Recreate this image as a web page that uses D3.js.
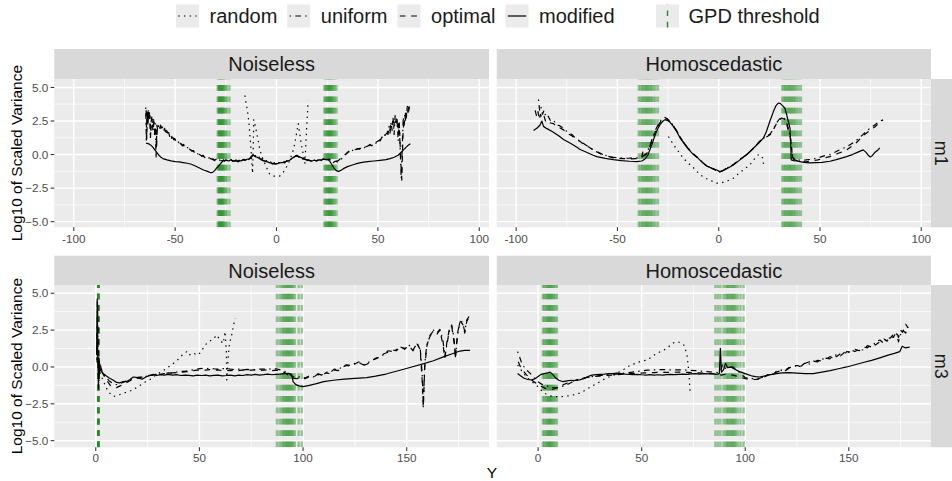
<!DOCTYPE html>
<html>
<head>
<meta charset="utf-8">
<script src="https://cdn.jsdelivr.net/npm/d3@7"></script>
<style>
  body { margin: 0; background: #fff; }
  svg { display: block; }
  text { font-family: "Liberation Sans", Arial, Helvetica, sans-serif; }
</style>
</head>
<body>
<svg id="chart" width="952" height="481"></svg>
<script>
// ---- categories and labels ----
const methods = ["random", "uniform", "optimal", "modified"];
const noiseLevels = ["Noiseless", "Homoscedastic"];
const models = ["m1", "m3"];
const thresholdLabel = "GPD threshold";
const yAxisTitle = "Log10 of Scaled Variance";
const xAxisTitle = "Y";
const yTicks = [-5, -2.5, 0, 2.5, 5];
const yMinor = [-3.75, -1.25, 1.25, 3.75];
const xTicksM1 = [-100, -50, 0, 50, 100];
const xMinorM1 = [-75, -25, 25, 75];
const xTicksM3 = [0, 50, 100, 150];
const xMinorM3 = [25, 75, 125, 175];

// ---- m1, Noiseless ----
const m1NoiselessRandom = [[-15.6,4.4],[-15.2,4.0],[-14.8,3.7],[-14.4,3.3],[-14,2.9],[-13.6,2.3],[-13.2,1.6],[-12.8,0.8],[-12.4,0.0],[-12.1,-0.8],[-11.8,-1.4],[-11.5,0.6],[-11.2,2.6],[-10.7,2.3],[-9.9,1.7],[-9.1,1.1],[-8.2,0.35],[-7,-0.2],[-5.8,-0.64],[-4.5,-1.1],[-3.3,-1.5],[-1.5,-1.6],[0,-1.62],[1.6,-1.6],[3,-1.4],[4.1,-1.14],[5.4,-0.8],[6.6,-0.4],[8.2,0.3],[9.1,0.9],[9.9,1.6],[10.7,2.3],[11.5,1.5],[12.3,0.7],[13.2,0.0],[14,-0.64],[14.4,0.6],[14.8,1.8],[15.2,2.9],[15.6,4.0]];
const m1NoiselessUniform = [[-64.5,3.5],[-64.2,0.9],[-63.9,3.3],[-63.6,2.4],[-63.3,3.4],[-63.0,2.8],[-62.6,3.1],[-62.2,1.2],[-61.8,2.5],[-61.4,2.9],[-61.0,1.8],[-60.6,2.6],[-60.2,1.5],[-59.8,2.3],[-59.4,-0.3],[-59.0,2.2],[-58.6,1.8],[-58.2,2.15],[-57.7,1.9],[-57.2,2.2],[-56.7,1.85],[-56.2,2.05],[-55.7,1.75],[-55.2,1.95],[-54.7,1.6],[-54.2,1.8],[-53.7,1.5],[-53.2,1.65],[-52.7,1.35],[-52.2,1.5],[-51.7,1.2],[-51.2,1.35],[-50.7,1.1],[-50.2,1.2],[-49.5,0.95],[-48.8,1.05],[-48.0,0.8],[-47.3,0.9],[-46.5,0.65],[-45.8,0.75],[-45.0,0.55],[-44.2,0.6],[-43.4,0.4],[-42.6,0.45],[-41.8,0.25],[-41.0,0.3],[-40.2,0.1],[-39.4,0.18],[-38.6,0.0],[-37.8,0.05],[-37.0,-0.12],[-36.2,-0.05],[-35.4,-0.22],[-34.6,-0.15],[-33.8,-0.3],[-33.0,-0.22],[-32.2,-0.38],[-31.4,-0.3],[-30.6,-0.45],[-29.8,-0.35],[-29.0,-0.5],[-28.2,-0.38],[-27.4,-0.52],[-26.6,-0.36],[-25.8,-0.48],[-25,-0.4],[-24,-0.5],[-23,-0.35],[-22,-0.45],[-21,-0.52],[-20,-0.4],[-19,-0.55],[-18,-0.45],[-17,-0.5],[-16,-0.35],[-15,-0.45],[-14,-0.4],[-13,-0.3],[-12,-0.1],[-11,0.05],[-10,-0.2],[-9,-0.1],[-8,-0.35],[-7,-0.3],[-6,-0.5],[-5,-0.45],[-4,-0.6],[-3,-0.55],[-2,-0.7],[-1,-0.6],[0,-0.72],[1,-0.6],[2,-0.66],[3,-0.55],[4,-0.62],[5,-0.45],[6,-0.5],[7,-0.35],[8,-0.25],[9,-0.15],[10,-0.05],[11,-0.2],[12,-0.1],[13,-0.35],[14,-0.3],[15,-0.45],[16,-0.4],[17,-0.5],[18,-0.45],[19,-0.4],[20,-0.5],[21,-0.35],[22,-0.45],[23,-0.3],[24,-0.4],[25,-0.3],[26,-0.35],[27,-0.45],[28,-0.6],[29,-0.5],[30,-0.55],[31,-0.4],[32,-0.35],[33,-0.1],[34,0.0],[35,0.15],[36,0.3],[37,0.2],[38,0.4],[39,0.3],[40,0.45],[41,0.4],[42,0.55],[43,0.45],[44,0.6],[45,0.55],[46,0.75],[47,0.65],[48,0.9],[49,0.85],[50,1.05],[51,1.0],[52,1.3],[53,1.2],[54,1.7],[55,1.5],[55.5,2.1],[56,1.6],[56.5,2.4],[57,1.8],[57.5,2.7],[58,1.5],[58.5,2.9],[59,2.2],[59.5,2.6],[60,1.0],[60.5,2.5],[61,0.3],[61.5,-1.8],[62,0.5],[62.5,2.8],[63,2.2],[63.5,3.2],[64,2.6],[64.5,3.6],[65,3.0],[65.5,3.6]];
const m1NoiselessOptimal = [[-64.3,3.3],[-64.0,1.2],[-63.7,3.0],[-63.4,2.1],[-63.1,3.2],[-62.8,2.5],[-62.4,2.9],[-62.0,1.6],[-61.6,2.7],[-61.2,2.4],[-60.8,2.0],[-60.4,2.4],[-60.0,1.7],[-59.6,2.1],[-59.2,0.4],[-58.8,2.0],[-58.4,1.9],[-57.9,2.05],[-57.4,1.95],[-56.9,2.1],[-56.4,1.9],[-55.9,1.95],[-55.4,1.8],[-54.9,1.85],[-54.4,1.65],[-53.9,1.7],[-53.4,1.5],[-52.9,1.55],[-52.4,1.4],[-51.9,1.4],[-51.4,1.25],[-50.9,1.25],[-50.4,1.12],[-49.8,1.05],[-49.1,1.0],[-48.4,0.92],[-47.6,0.85],[-46.9,0.75],[-46.1,0.7],[-45.4,0.6],[-44.6,0.55],[-43.8,0.45],[-43.0,0.42],[-42.2,0.32],[-41.4,0.28],[-40.6,0.18],[-39.8,0.14],[-39.0,0.06],[-38.2,0.02],[-37.4,-0.06],[-36.6,-0.1],[-35.8,-0.16],[-35.0,-0.2],[-34.2,-0.24],[-33.4,-0.28],[-32.6,-0.3],[-31.8,-0.34],[-31.0,-0.4],[-30.2,-0.4],[-29.4,-0.44],[-28.6,-0.45],[-27.8,-0.44],[-27.0,-0.46],[-26.2,-0.42],[-25.5,-0.45],[-24.5,-0.42],[-23.5,-0.48],[-22.5,-0.38],[-21.5,-0.5],[-20.5,-0.45],[-19.5,-0.5],[-18.5,-0.42],[-17.5,-0.48],[-16.5,-0.38],[-15.5,-0.42],[-14.5,-0.35],[-13.5,-0.32],[-12.5,-0.15],[-11.5,-0.05],[-10.5,-0.15],[-9.5,-0.2],[-8.5,-0.3],[-7.5,-0.38],[-6.5,-0.45],[-5.5,-0.5],[-4.5,-0.55],[-3.5,-0.6],[-2.5,-0.65],[-1.5,-0.68],[-0.5,-0.7],[0.5,-0.68],[1.5,-0.62],[2.5,-0.6],[3.5,-0.58],[4.5,-0.52],[5.5,-0.48],[6.5,-0.42],[7.5,-0.3],[8.5,-0.2],[9.5,-0.1],[10.5,-0.12],[11.5,-0.18],[12.5,-0.25],[13.5,-0.32],[14.5,-0.38],[15.5,-0.42],[16.5,-0.45],[17.5,-0.48],[18.5,-0.42],[19.5,-0.46],[20.5,-0.42],[21.5,-0.4],[22.5,-0.38],[23.5,-0.35],[24.5,-0.38],[25.5,-0.35],[26.5,-0.4],[27.5,-0.5],[28.5,-0.55],[29.5,-0.48],[30.5,-0.45],[31.5,-0.3],[32.5,-0.2],[33.5,-0.05],[34.5,0.08],[35.5,0.2],[36.5,0.25],[37.5,0.3],[38.5,0.35],[39.5,0.4],[40.5,0.42],[41.5,0.5],[42.5,0.5],[43.5,0.58],[44.5,0.6],[45.5,0.68],[46.5,0.72],[47.5,0.8],[48.5,0.88],[49.5,0.95],[50.5,1.05],[51.5,1.15],[52.5,1.25],[53.5,1.45],[54.5,1.6],[55.2,1.9],[55.8,1.7],[56.3,2.2],[56.8,2.0],[57.3,2.5],[57.8,2.0],[58.3,2.7],[58.8,2.4],[59.3,2.8],[59.8,1.8],[60.3,2.3],[60.8,1.5],[61.3,-0.5],[61.8,-1.9],[62.3,1.2],[62.8,2.6],[63.3,2.9],[63.8,2.4],[64.3,3.4],[64.8,3.2],[65.3,3.7],[65.7,3.4]];
const m1NoiselessModified = [[-64.3,0.85],[-63,0.8],[-62,0.7],[-61,0.55],[-60,0.35],[-59,0.15],[-58,-0.05],[-57,-0.2],[-56,-0.3],[-54,-0.4],[-52,-0.47],[-50,-0.52],[-48,-0.55],[-46,-0.6],[-44,-0.65],[-42,-0.72],[-40,-0.85],[-38,-1.0],[-36,-1.15],[-34,-1.25],[-32.5,-1.35],[-31.5,-1.33],[-30.5,-1.2],[-29.5,-1.0],[-28.5,-0.85],[-27.5,-0.65],[-26.5,-0.5],[-25.5,-0.45],[-24.5,-0.42],[-23.5,-0.48],[-22.5,-0.38],[-21.5,-0.5],[-20.5,-0.45],[-19.5,-0.5],[-18.5,-0.42],[-17.5,-0.48],[-16.5,-0.38],[-15.5,-0.42],[-14.5,-0.35],[-13.5,-0.32],[-12.5,-0.15],[-11.5,-0.05],[-10.5,-0.15],[-9.5,-0.2],[-8.5,-0.3],[-7.5,-0.38],[-6.5,-0.45],[-5.5,-0.5],[-4.5,-0.55],[-3.5,-0.6],[-2.5,-0.65],[-1.5,-0.68],[-0.5,-0.7],[0.5,-0.68],[1.5,-0.62],[2.5,-0.6],[3.5,-0.58],[4.5,-0.52],[5.5,-0.48],[6.5,-0.42],[7.5,-0.3],[8.5,-0.2],[9.5,-0.1],[10.5,-0.12],[11.5,-0.18],[12.5,-0.25],[13.5,-0.32],[14.5,-0.38],[15.5,-0.42],[16.5,-0.45],[17.5,-0.48],[18.5,-0.42],[19.5,-0.46],[20.5,-0.42],[21.5,-0.4],[22.5,-0.38],[23.5,-0.35],[24.5,-0.38],[25.5,-0.4],[26.5,-0.55],[27.5,-0.8],[28.5,-1.05],[29.5,-1.2],[30.5,-1.25],[31.5,-1.2],[33,-1.05],[35,-0.9],[37,-0.8],[39,-0.7],[41,-0.62],[43,-0.57],[45,-0.52],[48,-0.48],[51,-0.43],[54,-0.38],[56,-0.3],[58,-0.2],[60,-0.05],[61,0.1],[62,0.25],[63,0.4],[64,0.55],[65,0.7],[66,0.8]];
const m1NoiselessThresholds = [-29.0,-28.6,-28.3,-28.0,-27.7,-27.4,-27.1,-26.8,-26.5,-26.1,-25.7,-25.1,-24.4,-23.2,23.6,24.1,24.6,25.0,25.4,25.8,26.1,26.4,26.8,27.2,27.6,28.1,28.7,29.6];

// ---- m1, Homoscedastic ----
const m1HomoscedasticRandom = [[-24.8,1.34],[-23,0.9],[-21,0.45],[-19,0.05],[-17.5,-0.27],[-15,-0.65],[-12,-1.05],[-9.2,-1.51],[-6,-1.8],[-3,-2.0],[-1,-2.13],[1.5,-2.1],[4.5,-1.95],[7.2,-1.76],[10,-1.4],[12.5,-1.1],[15.4,-0.77],[17.5,-0.35],[19.5,-0.02],[20.8,-0.05],[21.8,-0.3],[22.3,-1.0]];
const m1HomoscedasticUniform = [[-89,4.1],[-88.4,3.3],[-87.8,3.6],[-87,3.0],[-86.2,3.3],[-85.3,2.8],[-84.3,2.9],[-83,2.5],[-81.5,2.55],[-80,2.2],[-78.5,2.15],[-76.6,1.95],[-74.5,1.65],[-72.5,1.5],[-70.5,1.2],[-68.4,1.0],[-66,0.75],[-64,0.55],[-62,0.35],[-60.2,0.2],[-58,0.05],[-56,-0.05],[-54,-0.15],[-52,-0.2],[-50,-0.25],[-47,-0.28],[-44,-0.27],[-41,-0.25],[-39,-0.25],[-37.5,-0.15],[-36,0.05],[-35,0.3],[-34,0.7],[-33,1.1],[-32,1.5],[-31,1.9],[-30,2.2],[-28.9,2.5],[-27.8,2.7],[-26.8,2.78],[-25.8,2.7],[-24,2.5],[-22.4,2.15],[-20.5,1.72],[-19.1,1.32],[-17,0.85],[-15,0.45],[-12.5,0.05],[-10,-0.28],[-8,-0.58],[-5.9,-0.85],[-3,-1.05],[-1,-1.2],[0.6,-1.3],[2,-1.2],[4,-1.0],[7.2,-0.75],[10,-0.4],[13.8,0.0],[16,0.3],[18,0.6],[20,0.95],[22,1.2],[24,1.4],[25.5,1.55],[27,1.9],[28.5,2.35],[30,2.65],[31.5,2.78],[32.5,2.7],[33.5,2.4],[34.5,1.9],[35.3,1.3],[36,0.5],[36.5,-0.2],[37.5,-0.35],[39,-0.4],[41,-0.42],[43,-0.4],[46,-0.35],[49,-0.25],[52,-0.1],[54.9,0.0],[57,0.15],[59,0.3],[61,0.45],[63.1,0.55],[65,0.75],[67,0.95],[69,1.2],[71.3,1.5],[73,1.75],[75,2.0],[77,2.2],[79.5,2.5],[81.7,2.6]];
const m1HomoscedasticOptimal = [[-90.6,3.3],[-89.8,2.8],[-89.2,3.2],[-88.6,2.6],[-88,3.0],[-87.2,2.7],[-86.3,2.9],[-85.5,2.5],[-84.5,2.6],[-83,2.35],[-81.5,2.3],[-80,2.05],[-78.5,2.0],[-76.6,1.84],[-74.5,1.55],[-72.5,1.4],[-70.5,1.15],[-68.4,0.97],[-66,0.7],[-64,0.55],[-62,0.35],[-60.2,0.22],[-58,0.05],[-56,-0.05],[-54,-0.15],[-52,-0.25],[-50,-0.28],[-47,-0.3],[-44,-0.32],[-41,-0.3],[-39,-0.28],[-38,-0.2],[-37.3,0.3],[-36.8,-0.1],[-36,0.0],[-35,0.2],[-34,0.6],[-33,1.0],[-32.2,1.35],[-31,1.8],[-30,2.1],[-28.9,2.4],[-27.8,2.6],[-26.5,2.72],[-25.5,2.65],[-24,2.45],[-22.4,2.15],[-20.5,1.7],[-19.1,1.3],[-17,0.85],[-15,0.45],[-12.5,0.05],[-10,-0.28],[-8,-0.58],[-5.9,-0.85],[-3,-1.05],[-1,-1.2],[0.6,-1.3],[2,-1.2],[4,-1.0],[7.2,-0.75],[10,-0.4],[13.8,0.0],[16,0.3],[18,0.6],[20,0.95],[22,1.2],[24,1.35],[25.5,1.5],[27,1.85],[28.5,2.3],[30,2.6],[31.1,2.72],[32.3,2.65],[33.5,2.3],[34.5,1.7],[35.5,1.2],[36,0.4],[36.6,-0.3],[37.5,-0.4],[39,-0.45],[41,-0.5],[43,-0.55],[46,-0.45],[49,-0.4],[52,-0.25],[54.9,-0.15],[57,-0.05],[59,0.1],[61,0.2],[63.1,0.35],[65,0.55],[67,0.75],[69,1.05],[71.3,1.4],[73,1.6],[75,1.85],[77,2.05],[79.5,2.4],[81.1,2.6]];
const m1HomoscedasticModified = [[-91.4,1.8],[-89.5,2.0],[-88.2,2.2],[-87.3,2.5],[-86.5,2.1],[-85,1.95],[-82,1.7],[-79,1.4],[-76.6,1.12],[-73,0.82],[-70,0.55],[-68.4,0.38],[-65,0.15],[-62,-0.05],[-60.2,-0.15],[-56,-0.28],[-52,-0.38],[-48,-0.45],[-44,-0.5],[-40.4,-0.52],[-38,-0.48],[-36.5,-0.35],[-35,-0.05],[-34,0.35],[-33,0.75],[-32.2,1.1],[-31,1.6],[-30,1.95],[-28.9,2.25],[-27.5,2.5],[-26.5,2.6],[-25.5,2.55],[-24,2.4],[-22.4,2.1],[-20.5,1.65],[-19.1,1.25],[-17,0.8],[-15,0.4],[-12.5,0.0],[-10,-0.3],[-8,-0.6],[-5.9,-0.85],[-3,-1.05],[-1,-1.15],[0.6,-1.27],[2,-1.2],[4,-1.05],[7.2,-0.78],[10,-0.45],[13.8,-0.02],[16,0.3],[18,0.6],[20,0.9],[22,1.22],[23.5,1.7],[25.3,2.5],[27,3.2],[28.3,3.65],[29.4,3.84],[30.5,3.8],[31.5,3.65],[32.7,3.45],[33.5,3.0],[34.3,2.5],[35.2,1.97],[35.6,0.5],[35.8,-0.4],[37,-0.45],[38.5,-0.48],[40.1,-0.52],[42,-0.58],[45,-0.62],[48,-0.6],[51,-0.58],[54.9,-0.5],[58,-0.38],[61,-0.25],[63.1,-0.15],[66,0.0],[69,0.2],[71.3,0.35],[72.5,0.2],[73.8,-0.05],[74.8,-0.18],[75.8,-0.08],[77,0.15],[78.3,0.3],[79.5,0.5]];
const m1HomoscedasticThresholds = [-39.5,-38.6,-37.9,-37.2,-36.6,-36.0,-35.4,-34.8,-34.2,-33.6,-32.9,-32.1,-31.2,-30.0,31.4,32.1,32.8,33.4,34.0,34.6,35.2,35.8,36.4,37.0,37.7,38.5,39.5,40.6];

// ---- m3, Noiseless ----
const m3NoiselessRandom = [[1.2,-0.8],[2,-0.4],[3.5,-0.9],[5,-1.4],[6.5,-1.75],[8.5,-2.0],[10,-1.95],[12,-1.85],[14,-1.75],[16,-1.65],[18.1,-1.56],[20,-1.35],[22,-1.2],[24,-1.0],[26.2,-0.85],[28,-0.65],[30,-0.45],[32,-0.3],[34.2,-0.1],[36,0.1],[38,0.3],[40,0.55],[42,0.85],[43.9,1.04],[45,0.8],[47,0.95],[49,0.8],[50.3,0.95],[52,1.3],[53.5,1.6],[55,1.75],[57,1.95],[58.4,2.17],[60,1.8],[61.5,1.6],[62.4,2.4],[63,1.0],[63.2,-0.88],[63.8,0.5],[64.5,1.6],[65.4,2.05],[66.3,2.7],[67.2,3.3]];
const m3NoiselessUniform = [[0.5,0.5],[0.8,4.5],[1.1,1.0],[1.5,-1.0],[2.0,0.3],[2.6,-0.1],[3.5,-0.4],[5,-0.7],[6.5,-0.95],[8,-1.1],[9.5,-1.2],[11,-1.18],[13,-1.05],[15,-0.95],[17,-0.85],[19,-0.75],[21,-0.68],[23,-0.7],[25,-0.6],[27,-0.55],[29,-0.5],[31,-0.55],[33,-0.45],[35,-0.4],[37,-0.42],[39,-0.35],[41,-0.3],[43,-0.3],[45,-0.25],[47,-0.2],[49,-0.15],[51,-0.1],[53,-0.12],[55,-0.08],[57,-0.12],[59,-0.15],[61,-0.12],[63,-0.1],[65,-0.15],[67,-0.18],[69,-0.15],[71,-0.2],[73,-0.17],[75,-0.2],[77,-0.18],[79,-0.15],[81,-0.15],[83,-0.13],[85,-0.15],[87,-0.12],[89,-0.2],[91,-0.3],[93,-0.45],[95,-0.65],[97,-0.72],[99,-0.65],[101,-0.75],[103,-0.6],[105,-0.68],[107,-0.45],[109,-0.55],[111,-0.35],[113,-0.4],[115,-0.15],[117,-0.2],[119,0.05],[121,0.15],[123,0.1],[125,0.25],[127,0.3],[129,0.15],[131,0.25],[133,0.45],[135,0.55],[137,0.7],[139,0.85],[141,1.1],[143,1.05],[145,1.2],[147,1.35],[149,1.25],[151,1.5],[153,1.15],[155,1.6],[156.5,1.3],[157.5,-0.5],[158,-2.7],[158.7,0.2],[159.7,1.5],[161,2.0],[162.9,2.5],[164.5,2.3],[166,2.55],[167.5,1.8],[168.4,0.7],[169.5,1.6],[170.5,2.4],[171.7,2.85],[172.8,2.0],[173.5,0.7],[174.5,2.1],[175.8,3.19],[177,3.0],[178,2.4],[179,3.2],[180.6,3.53]];
const m3NoiselessOptimal = [[0.6,0.3],[0.9,4.2],[1.2,0.8],[1.6,-0.8],[2.2,0.0],[3,-0.35],[4,-0.6],[5.5,-0.95],[7,-1.25],[8.5,-1.38],[10,-1.4],[11.5,-1.3],[13,-1.2],[15,-1.05],[17,-0.9],[19,-0.8],[21,-0.72],[23,-0.68],[25,-0.6],[27,-0.55],[29,-0.52],[31,-0.5],[33,-0.45],[35,-0.42],[37,-0.4],[39,-0.38],[41,-0.35],[43,-0.33],[45,-0.3],[47,-0.25],[49,-0.22],[51,-0.2],[53,-0.22],[55,-0.18],[57,-0.22],[59,-0.2],[61,-0.25],[63,-0.22],[65,-0.25],[67,-0.22],[69,-0.25],[71,-0.2],[73,-0.25],[75,-0.22],[77,-0.2],[79,-0.25],[81,-0.22],[83,-0.2],[85,-0.25],[87,-0.22],[89,-0.28],[91,-0.38],[93,-0.55],[95,-0.75],[97,-0.8],[99,-0.7],[101,-0.8],[103,-0.65],[105,-0.7],[107,-0.5],[109,-0.6],[111,-0.4],[113,-0.45],[115,-0.2],[117,-0.25],[119,0.0],[121,0.1],[123,0.05],[125,0.2],[127,0.35],[129,0.1],[131,0.2],[133,0.4],[135,0.6],[137,0.65],[139,0.9],[141,1.0],[143,1.15],[145,1.1],[147,1.4],[149,1.2],[151,1.45],[153,1.1],[155,1.55],[156.5,1.2],[157.5,-1.0],[158,-2.75],[158.7,0.0],[159.7,1.4],[161,2.1],[162.9,2.45],[164.5,2.2],[166,2.5],[167.5,1.5],[168.4,0.6],[169.5,1.8],[170.5,2.5],[171.7,2.8],[172.8,1.7],[173.5,0.6],[174.5,2.3],[175.8,3.1],[177,2.9],[178,2.3],[179,3.1],[180.6,3.5]];
const m3NoiselessModified = [[0.4,0.8],[0.7,4.6],[1.0,0.5],[1.3,-1.5],[1.6,0.6],[2.0,-0.1],[2.5,-0.25],[3.7,-0.45],[5,-0.6],[6.5,-0.75],[8.5,-0.9],[10,-1.05],[11.5,-1.08],[13,-1.0],[15,-0.98],[16.5,-0.85],[18.1,-0.68],[19.5,-0.7],[21,-0.78],[22.5,-0.82],[24,-0.7],[25.5,-0.6],[27.8,-0.5],[29.5,-0.58],[31,-0.52],[33,-0.55],[35,-0.5],[37,-0.55],[39,-0.52],[41,-0.58],[43,-0.55],[45,-0.57],[47,-0.6],[49,-0.55],[51,-0.58],[53,-0.55],[55,-0.6],[57,-0.57],[59,-0.55],[61,-0.6],[63,-0.58],[65,-0.55],[67,-0.6],[69,-0.55],[71,-0.58],[73,-0.52],[75,-0.55],[77,-0.5],[79,-0.55],[81,-0.52],[83,-0.48],[85,-0.53],[87,-0.5],[89,-0.48],[91,-0.45],[93,-0.43],[94.5,-0.5],[95.2,-1.0],[96.5,-1.2],[98,-1.28],[100.1,-1.33],[103,-1.25],[106,-1.15],[110,-1.0],[114.6,-0.9],[120,-0.82],[125,-0.78],[130.7,-0.72],[135,-0.62],[140,-0.48],[146.8,-0.22],[152,-0.02],[157,0.18],[162.9,0.42],[168,0.7],[172,0.9],[175.7,1.08],[178,1.12],[180.5,1.12]];
const m3NoiselessThresholds = [1.25,1.25,1.25,1.25,1.25,1.25,1.25,1.25,87.4,88.6,89.6,90.3,90.9,91.5,92.0,92.5,93.0,93.5,94.0,94.6,95.2,96.0,97.9,99.4];

// ---- m3, Homoscedastic ----
const m3HomoscedasticRandom = [[-9.9,0.13],[-8,-0.25],[-6,-0.6],[-4,-0.9],[-2,-1.1],[0,-1.35],[2,-1.65],[4.5,-1.9],[7,-2.0],[9.5,-2.02],[12.5,-2.0],[15,-1.95],[17.5,-1.88],[20.6,-1.75],[23,-1.55],[26,-1.3],[28.6,-1.1],[31,-0.9],[33.5,-0.72],[36.7,-0.55],[39,-0.35],[41.5,-0.15],[44.7,0.13],[47,0.25],[50,0.4],[52.7,0.47],[55,0.7],[57,0.9],[58.5,1.0],[60.7,1.15],[62.5,1.3],[64,1.5],[65.5,1.65],[67.1,1.72],[68.5,1.65],[70.3,1.5],[71.2,1.15],[72,0.7],[72.8,-0.4],[73.5,-1.9]];
const m3HomoscedasticUniform = [[-9.9,1.04],[-9,0.7],[-8,0.3],[-7,0.05],[-6,-0.15],[-4.5,-0.35],[-3,-0.55],[-1.5,-0.8],[0,-1.0],[1.5,-1.15],[3,-1.25],[4.5,-1.3],[6,-1.35],[7.5,-1.4],[9,-1.42],[10.5,-1.38],[12,-1.3],[14,-1.2],[16,-1.05],[18,-0.95],[20.6,-0.8],[23,-0.72],[26,-0.65],[29,-0.6],[32,-0.55],[36.7,-0.5],[40,-0.45],[44,-0.38],[48,-0.3],[52.7,-0.22],[56,-0.2],[60,-0.18],[64,-0.2],[68.8,-0.2],[72,-0.22],[76,-0.25],[80,-0.3],[84.8,-0.35],[87,-0.38],[88,-0.3],[89,0.15],[90,-0.1],[92,-0.05],[94,0.0],[96,-0.2],[98,-0.5],[100,-0.72],[102,-0.78],[104.5,-0.8],[106.5,-0.78],[108.5,-0.7],[110.5,-0.55],[112,-0.45],[113.5,-0.5],[115,-0.3],[117.3,-0.22],[119,-0.25],[121,-0.05],[123,0.0],[125.3,0.13],[127,0.05],[129,0.3],[131,0.2],[132.9,0.4],[135,0.35],[137,0.55],[139,0.5],[140.9,0.7],[142.5,0.6],[144,0.85],[146,0.75],[148,1.0],[149,0.9],[151,1.15],[153,1.05],[155,1.2],[157,1.15],[159,1.45],[161,1.35],[163,1.7],[165,1.83],[167,1.6],[168.5,2.0],[170,1.95],[171.5,2.2],[173,2.3],[174,1.7],[175,2.2],[176,2.5],[177.5,2.3],[178.6,2.73]];
const m3HomoscedasticOptimal = [[-9.6,0.35],[-8.5,0.0],[-7,-0.3],[-5.5,-0.55],[-4,-0.75],[-2.5,-0.95],[-1,-1.1],[0.5,-1.25],[2,-1.35],[3.5,-1.45],[5,-1.5],[6.5,-1.52],[8,-1.48],[9.5,-1.4],[11,-1.3],[13,-1.15],[15,-1.05],[17,-0.95],[19,-0.85],[21,-0.78],[24,-0.7],[27,-0.65],[30,-0.6],[33,-0.57],[36,-0.55],[40,-0.5],[44,-0.45],[48,-0.42],[52,-0.4],[56,-0.38],[60,-0.36],[64,-0.37],[68,-0.35],[72,-0.37],[76,-0.4],[80,-0.42],[84,-0.45],[87,-0.5],[88.5,-0.55],[90,-0.5],[92,-0.5],[94,-0.55],[96,-0.62],[98,-0.7],[100,-0.8],[102,-0.82],[104.5,-0.85],[106.5,-0.82],[108.5,-0.72],[110.5,-0.6],[112,-0.5],[113.5,-0.55],[115,-0.35],[117.3,-0.25],[119,-0.3],[121,-0.1],[123,0.05],[125.3,0.1],[127,0.0],[129,0.25],[131,0.35],[132.9,0.3],[135,0.45],[137,0.4],[139,0.6],[140.9,0.55],[142.5,0.75],[144,0.7],[146,0.9],[148,0.85],[149,1.05],[151,1.0],[153,1.2],[155,1.1],[157,1.35],[159,1.3],[161,1.55],[163,1.5],[165,1.7],[167,1.9],[168.5,1.75],[170,2.1],[171.5,2.0],[173,2.4],[174,2.0],[175,2.5],[176,2.35],[177.5,2.9],[178.6,2.65]];
const m3HomoscedasticModified = [[-9.9,-0.45],[-8.5,-0.6],[-7,-0.75],[-5,-0.85],[-3,-0.88],[-1.5,-0.8],[0,-0.65],[1.5,-0.5],[3,-0.45],[4.5,-0.4],[5.8,-0.35],[7,-0.5],[8.5,-0.75],[10,-0.9],[12,-1.0],[14,-0.95],[16,-0.9],[18,-0.92],[20,-0.88],[22,-0.8],[24,-0.65],[26,-0.55],[28,-0.52],[30,-0.5],[32,-0.48],[34,-0.45],[36,-0.45],[38,-0.42],[40,-0.45],[42,-0.48],[44,-0.5],[46,-0.52],[48,-0.5],[50,-0.53],[52,-0.55],[54,-0.52],[56,-0.55],[58,-0.53],[60,-0.55],[62,-0.52],[64,-0.5],[66,-0.52],[68,-0.5],[70,-0.48],[72,-0.5],[74,-0.47],[76,-0.45],[78,-0.48],[80,-0.45],[82,-0.47],[84,-0.45],[86,-0.5],[87.5,-0.45],[88,1.27],[88.5,-0.35],[89.5,-0.2],[90.5,0.25],[91.5,-0.05],[93,0.0],[95,-0.15],[97,-0.3],[99,-0.4],[101,-0.5],[103,-0.6],[105,-0.65],[107,-0.68],[109,-0.62],[111,-0.55],[113,-0.5],[115,-0.45],[118,-0.4],[121,-0.38],[125,-0.42],[129,-0.45],[132.9,-0.45],[137,-0.35],[141,-0.25],[145,-0.12],[149,0.0],[153,0.15],[157,0.3],[161,0.45],[165,0.62],[169,0.8],[172,0.92],[174.6,1.04],[175.8,1.4],[177.2,1.3],[179.4,1.35]];
const m3HomoscedasticThresholds = [2.3,3.0,3.6,4.2,4.7,5.2,5.6,6.0,6.5,7.0,7.6,8.3,9.1,85.6,86.8,88.0,89.5,90.5,91.2,91.8,92.4,93.0,93.6,94.2,94.8,95.4,96.4,97.7,99.2];

// ---- panel table built from the arrays above ----
const panelData = [
  { model: "m1", noise: "Noiseless", row: 0, col: 0, thresholds: m1NoiselessThresholds,
    series: { random: m1NoiselessRandom, uniform: m1NoiselessUniform, optimal: m1NoiselessOptimal, modified: m1NoiselessModified } },
  { model: "m1", noise: "Homoscedastic", row: 0, col: 1, thresholds: m1HomoscedasticThresholds,
    series: { random: m1HomoscedasticRandom, uniform: m1HomoscedasticUniform, optimal: m1HomoscedasticOptimal, modified: m1HomoscedasticModified } },
  { model: "m3", noise: "Noiseless", row: 1, col: 0, thresholds: m3NoiselessThresholds,
    series: { random: m3NoiselessRandom, uniform: m3NoiselessUniform, optimal: m3NoiselessOptimal, modified: m3NoiselessModified } },
  { model: "m3", noise: "Homoscedastic", row: 1, col: 1, thresholds: m3HomoscedasticThresholds,
    series: { random: m3HomoscedasticRandom, uniform: m3HomoscedasticUniform, optimal: m3HomoscedasticOptimal, modified: m3HomoscedasticModified } }
];

// ---- layout and styles ----
const rowLayout = [
  { top: 79, bottom: 227.3, stripTop: 49, xDomain: [-109.6, 104.8], yDomain: [-5.42, 5.63], xTicks: xTicksM1, xMinor: xMinorM1, tickLabelY: 243 },
  { top: 285, bottom: 447.3, stripTop: 255.7, xDomain: [-20, 189.7], yDomain: [-5.45, 5.56], xTicks: xTicksM3, xMinor: xMinorM3, tickLabelY: 462 }
];
const colLayout = [{ left: 54.3, right: 489 }, { left: 496.7, right: 931 }];
const stripRightWidth = 30;
const dashFor = { random: "1.42,4.27", uniform: "1.42,4.27,5.69,4.27", optimal: "5.69,5.69", modified: null };
const lineWidth = 1.2;
const gpdColor = "#228B22";

const svg = d3.select("#chart");
const defs = svg.append("defs");

// ---- legend ----
const legend = svg.append("g");
const keySize = 23, keyTop = 4.5, legendMid = keyTop + keySize / 2;
let keyX = 176;
methods.forEach(m => {
  legend.append("rect").attr("x", keyX).attr("y", keyTop).attr("width", keySize).attr("height", keySize).attr("fill", "#EBEBEB");
  legend.append("line")
    .attr("x1", keyX + 2.3).attr("x2", keyX + keySize - 2.3)
    .attr("y1", legendMid).attr("y2", legendMid)
    .attr("stroke", "#000").attr("stroke-width", lineWidth)
    .attr("stroke-dasharray", dashFor[m]);
  const t = legend.append("text").attr("x", keyX + keySize + 10.5).attr("y", legendMid + 7)
    .attr("font-size", 20).attr("fill", "#1A1A1A").text(m);
  keyX = keyX + keySize + 10.5 + t.node().getComputedTextLength() + 10;
});
const gpdKeyX = 656;
legend.append("rect").attr("x", gpdKeyX).attr("y", keyTop).attr("width", keySize).attr("height", keySize).attr("fill", "#EBEBEB");
legend.append("line")
  .attr("x1", gpdKeyX + keySize / 2).attr("x2", gpdKeyX + keySize / 2)
  .attr("y1", keyTop + keySize).attr("y2", keyTop)
  .attr("stroke", gpdColor).attr("stroke-width", 1.42).attr("stroke-dasharray", "5.69,5.69");
legend.append("text").attr("x", gpdKeyX + keySize + 9.5).attr("y", legendMid + 7)
  .attr("font-size", 20).attr("fill", "#1A1A1A").text(thresholdLabel);

// ---- panels ----
panelData.forEach((p, i) => {
  const R = rowLayout[p.row], C = colLayout[p.col];
  const x = d3.scaleLinear().domain(R.xDomain).range([C.left, C.right]);
  const y = d3.scaleLinear().domain(R.yDomain).range([R.bottom, R.top]);
  const g = svg.append("g");

  // background
  g.append("rect").attr("x", C.left).attr("y", R.top)
    .attr("width", C.right - C.left).attr("height", R.bottom - R.top).attr("fill", "#EBEBEB");

  // grid
  const grid = g.append("g");
  yMinor.forEach(v => grid.append("line").attr("x1", C.left).attr("x2", C.right).attr("y1", y(v)).attr("y2", y(v)).attr("stroke", "#fff").attr("stroke-width", 0.71));
  R.xMinor.forEach(v => grid.append("line").attr("x1", x(v)).attr("x2", x(v)).attr("y1", R.top).attr("y2", R.bottom).attr("stroke", "#fff").attr("stroke-width", 0.71));
  yTicks.forEach(v => grid.append("line").attr("x1", C.left).attr("x2", C.right).attr("y1", y(v)).attr("y2", y(v)).attr("stroke", "#fff").attr("stroke-width", 1.42));
  R.xTicks.forEach(v => grid.append("line").attr("x1", x(v)).attr("x2", x(v)).attr("y1", R.top).attr("y2", R.bottom).attr("stroke", "#fff").attr("stroke-width", 1.42));

  // clipped plotting area
  const clipId = "clip" + i;
  defs.append("clipPath").attr("id", clipId).append("rect")
    .attr("x", C.left).attr("y", R.top).attr("width", C.right - C.left).attr("height", R.bottom - R.top);
  const plot = g.append("g").attr("clip-path", `url(#${clipId})`);

  // GPD threshold lines
  plot.selectAll("line.gpd").data(p.thresholds).join("line")
    .attr("class", "gpd")
    .attr("x1", d => x(d)).attr("x2", d => x(d))
    .attr("y1", R.bottom).attr("y2", R.top)
    .attr("stroke", gpdColor).attr("stroke-opacity", 0.45)
    .attr("stroke-width", 2.4).attr("stroke-dasharray", "5.69,5.69");

  // series
  const line = d3.line().x(d => x(d[0])).y(d => y(d[1]));
  methods.forEach(m => {
    plot.append("path").datum(p.series[m])
      .attr("d", line).attr("fill", "none")
      .attr("stroke", "#000").attr("stroke-width", lineWidth)
      .attr("stroke-linejoin", "round")
      .attr("stroke-dasharray", dashFor[m]);
  });

  // x axis ticks and labels
  const ax = g.append("g");
  R.xTicks.forEach(v => {
    ax.append("line").attr("x1", x(v)).attr("x2", x(v)).attr("y1", R.bottom).attr("y2", R.bottom + 3.67)
      .attr("stroke", "#333").attr("stroke-width", 1.07);
    ax.append("text").attr("x", x(v)).attr("y", R.tickLabelY).attr("text-anchor", "middle")
      .attr("font-size", 11.7).attr("fill", "#4D4D4D").text(v);
  });

  // y axis on the left column only
  if (p.col === 0) {
    yTicks.forEach(v => {
      ax.append("line").attr("x1", C.left - 3.67).attr("x2", C.left).attr("y1", y(v)).attr("y2", y(v))
        .attr("stroke", "#333").attr("stroke-width", 1.07);
      ax.append("text").attr("x", C.left - 6).attr("y", y(v)).attr("dy", "0.36em").attr("text-anchor", "end")
        .attr("font-size", 11.7).attr("fill", "#4D4D4D").text(d3.format(".1f")(v));
    });
    svg.append("text")
      .attr("transform", `translate(22,${(R.top + R.bottom) / 2}) rotate(-90)`)
      .attr("text-anchor", "middle").attr("font-size", 15.5).attr("fill", "#000")
      .text(yAxisTitle);
  }

  // top strip
  g.append("rect").attr("x", C.left).attr("y", R.stripTop).attr("width", C.right - C.left)
    .attr("height", R.top - R.stripTop).attr("fill", "#D9D9D9");
  g.append("text").attr("x", (C.left + C.right) / 2).attr("y", (R.stripTop + R.top) / 2 + 7.4)
    .attr("text-anchor", "middle").attr("font-size", 20).attr("fill", "#1A1A1A").text(p.noise);

  // right strip
  if (p.col === 1) {
    g.append("rect").attr("x", C.right).attr("y", R.top).attr("width", stripRightWidth)
      .attr("height", R.bottom - R.top).attr("fill", "#D9D9D9");
    g.append("text")
      .attr("transform", `translate(${C.right + 4},${(R.top + R.bottom) / 2}) rotate(90)`)
      .attr("text-anchor", "middle").attr("font-size", 18).attr("fill", "#1A1A1A").text(p.model);
  }
});

// x axis title
svg.append("text").attr("x", 492).attr("y", 477.5).attr("text-anchor", "middle")
  .attr("font-size", 15.5).attr("fill", "#000").text(xAxisTitle);
</script>
</body>
</html>
